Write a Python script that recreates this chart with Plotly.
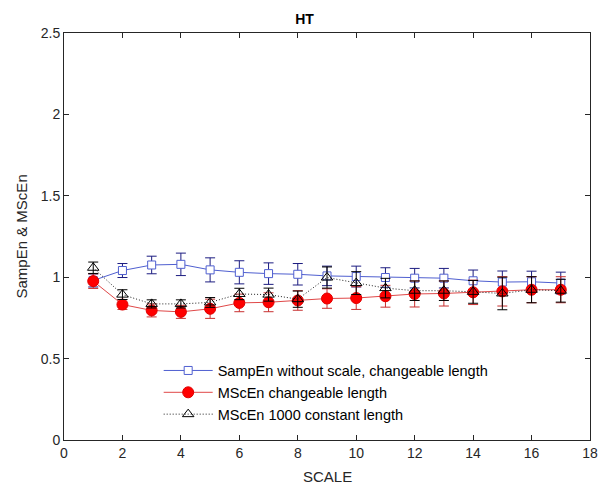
import plotly.graph_objects as go

scale = list(range(1, 18))

sampen = [0.98, 1.041, 1.075, 1.079, 1.045, 1.03, 1.022, 1.018, 1.008, 1.004, 0.998, 0.994, 0.994, 0.978, 0.97, 0.972, 0.964]
sampen_err = [0.04, 0.043, 0.054, 0.069, 0.074, 0.071, 0.066, 0.066, 0.06, 0.064, 0.06, 0.06, 0.06, 0.066, 0.068, 0.065, 0.067]

mscen = [0.976, 0.832, 0.796, 0.787, 0.806, 0.842, 0.846, 0.857, 0.869, 0.872, 0.883, 0.897, 0.9, 0.907, 0.913, 0.923, 0.923]
mscen_err = [0.045, 0.03, 0.04, 0.04, 0.059, 0.054, 0.058, 0.06, 0.06, 0.07, 0.067, 0.08, 0.077, 0.075, 0.09, 0.08, 0.08]

mscen1000 = [1.058, 0.893, 0.836, 0.836, 0.845, 0.897, 0.893, 0.865, 0.998, 0.964, 0.933, 0.917, 0.917, 0.91, 0.90, 0.923, 0.917]
mscen1000_err = [0.035, 0.03, 0.025, 0.025, 0.03, 0.035, 0.04, 0.05, 0.065, 0.07, 0.06, 0.06, 0.06, 0.07, 0.1, 0.08, 0.07]

x_ticks = [0, 2, 4, 6, 8, 10, 12, 14, 16, 18]
y_ticks = [0, 0.5, 1, 1.5, 2, 2.5]
y_tick_text = ["0", "0.5", "1", "1.5", "2", "2.5"]

FONT = "Liberation Sans, Arial"

fig = go.Figure()

fig.add_trace(go.Scatter(
    x=scale, y=sampen, mode="lines+markers",
    name="SampEn without scale, changeable length",
    line=dict(color="#4f5fd0", width=1),
    marker=dict(symbol="square", size=8, color="white", line=dict(color="#4f5fd0", width=1)),
    error_y=dict(type="data", array=sampen_err, color="#1c1c80", thickness=1, width=5),
))
fig.add_trace(go.Scatter(
    x=scale, y=mscen, mode="lines+markers",
    name="MScEn changeable length",
    line=dict(color="#e04848", width=1),
    marker=dict(symbol="circle", size=11, color="#ff0000", line=dict(color="#e00000", width=1)),
    error_y=dict(type="data", array=mscen_err, color="#c83030", thickness=1, width=5),
))
fig.add_trace(go.Scatter(
    x=scale, y=mscen1000, mode="lines+markers",
    name="MScEn 1000 constant length",
    line=dict(color="#202020", width=1, dash="1px,2px"),
    marker=dict(symbol="triangle-up-open", size=10, color="black", line=dict(color="black", width=1)),
    error_y=dict(type="data", array=mscen1000_err, color="black", thickness=1, width=5),
))

axis_common = dict(
    showline=True, linecolor="#262626", linewidth=1, mirror="ticks",
    ticks="inside", ticklen=5, tickcolor="#262626",
    showgrid=False, zeroline=False, automargin=False,
    tickfont=dict(family=FONT, size=14, color="#262626"),
)

W, H = 593, 477
PLOT_W, PLOT_H = 526, 407

fig.update_layout(
    width=W, height=H,
    paper_bgcolor="white", plot_bgcolor="white",
    margin=dict(l=56, r=11, t=25, b=45),
    title=dict(text="<b>HT</b>", x=0.5, xanchor="center", y=1 - 11 / H, yanchor="middle",
               automargin=False,
               font=dict(family=FONT, size=14, color="black")),
    xaxis=dict(range=[0, 18], tickvals=x_ticks, **axis_common),
    yaxis=dict(range=[0, 2.5], tickvals=y_ticks, ticktext=y_tick_text, **axis_common),
    legend=dict(x=0.18, y=0.21, xanchor="left", yanchor="top",
                bgcolor="rgba(255,255,255,0)", borderwidth=0,
                font=dict(family=FONT, size=14.5, color="black"),
                tracegroupgap=0, itemwidth=49),
    showlegend=True,
    annotations=[
        dict(text="SCALE", xref="paper", yref="paper", x=0.5, y=-36 / PLOT_H,
             xanchor="center", yanchor="middle", showarrow=False,
             font=dict(family=FONT, size=15, color="#262626")),
        dict(text="SampEn &amp; MScEn", xref="paper", yref="paper", x=-43 / PLOT_W, y=0.5,
             xanchor="center", yanchor="middle", textangle=-90, showarrow=False,
             font=dict(family=FONT, size=15, color="#262626")),
    ],
)

fig.write_html("out.html")
